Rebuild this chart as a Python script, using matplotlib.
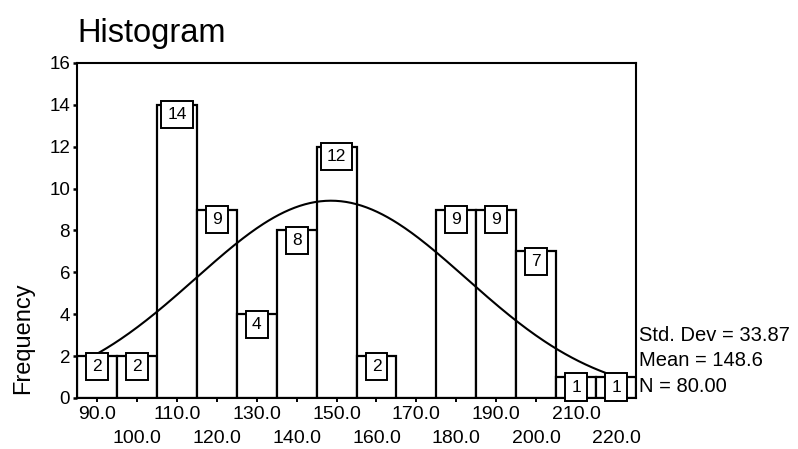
import numpy as np
import matplotlib
matplotlib.use("Agg")
import matplotlib.pyplot as plt

plt.rcParams["font.family"] = ["Liberation Sans", "DejaVu Sans"]

# ---------------- DATA ----------------
bin_centers = [90, 100, 110, 120, 130, 140, 150, 160, 170, 180, 190, 200, 210, 220]
counts = [2, 2, 14, 9, 4, 8, 12, 2, 0, 9, 9, 7, 1, 1]
bin_width = 10
std_dev = 33.87
mean = 148.6
n_total = 80
row1_ticks = [90, 110, 130, 150, 170, 190, 210]
row2_ticks = [100, 120, 140, 160, 180, 200, 220]

# ---------------- FIGURE ----------------
fig = plt.figure(figsize=(7.98, 4.49), dpi=100)
ax = fig.add_axes([0.0965, 0.1136, 0.7005, 0.7461])

ax.bar(bin_centers, counts, width=bin_width, color="white",
       edgecolor="black", linewidth=1.6)

# count labels in little boxes under the top of each bar
for x, c in zip(bin_centers, counts):
    if c == 0:
        continue
    ax.text(x, c - 0.12, str(c), ha="center", va="top", fontsize=12.5,
            bbox=dict(boxstyle="square,pad=0.35", fc="white", ec="black", lw=1.4))

# normal curve from the shown statistics
xs = np.linspace(89, 218, 300)
ys = n_total * bin_width / (std_dev * np.sqrt(2 * np.pi)) * \
    np.exp(-0.5 * ((xs - mean) / std_dev) ** 2)
ax.plot(xs, ys, color="black", linewidth=1.5)

ax.set_xlim(85, 225)
ax.set_ylim(0, 16)
ax.set_yticks(range(0, 17, 2))
ax.set_xticks(row1_ticks)
ax.set_xticklabels([f"{t:.1f}" for t in row1_ticks])
ax.set_xticks(row2_ticks, minor=True)
ax.set_xticklabels([f"{t:.1f}" for t in row2_ticks], minor=True)
ax.tick_params(axis="x", which="major", length=3, width=1.4, pad=3, labelsize=14)
ax.tick_params(axis="x", which="minor", length=3, width=1.4, pad=20, labelsize=14)
ax.tick_params(axis="y", length=3, width=1.8, pad=2, labelsize=13.5)
for s in ax.spines.values():
    s.set_linewidth(1.5)

ax.set_ylabel("Frequency", fontsize=17)
ax.yaxis.set_label_coords(-0.077, 0.18)
fig.text(0.0965, 0.89, "Histogram", fontsize=23.5, ha="left", va="bottom")

fig.text(0.801, 0.252, f"Std. Dev = {std_dev:.2f}", fontsize=14.5, va="center")
fig.text(0.801, 0.198, f"Mean = {mean:.1f}", fontsize=14.5, va="center")
fig.text(0.801, 0.140, f"N = {n_total:.2f}", fontsize=14.5, va="center")

fig.savefig("out.png", dpi=100)
